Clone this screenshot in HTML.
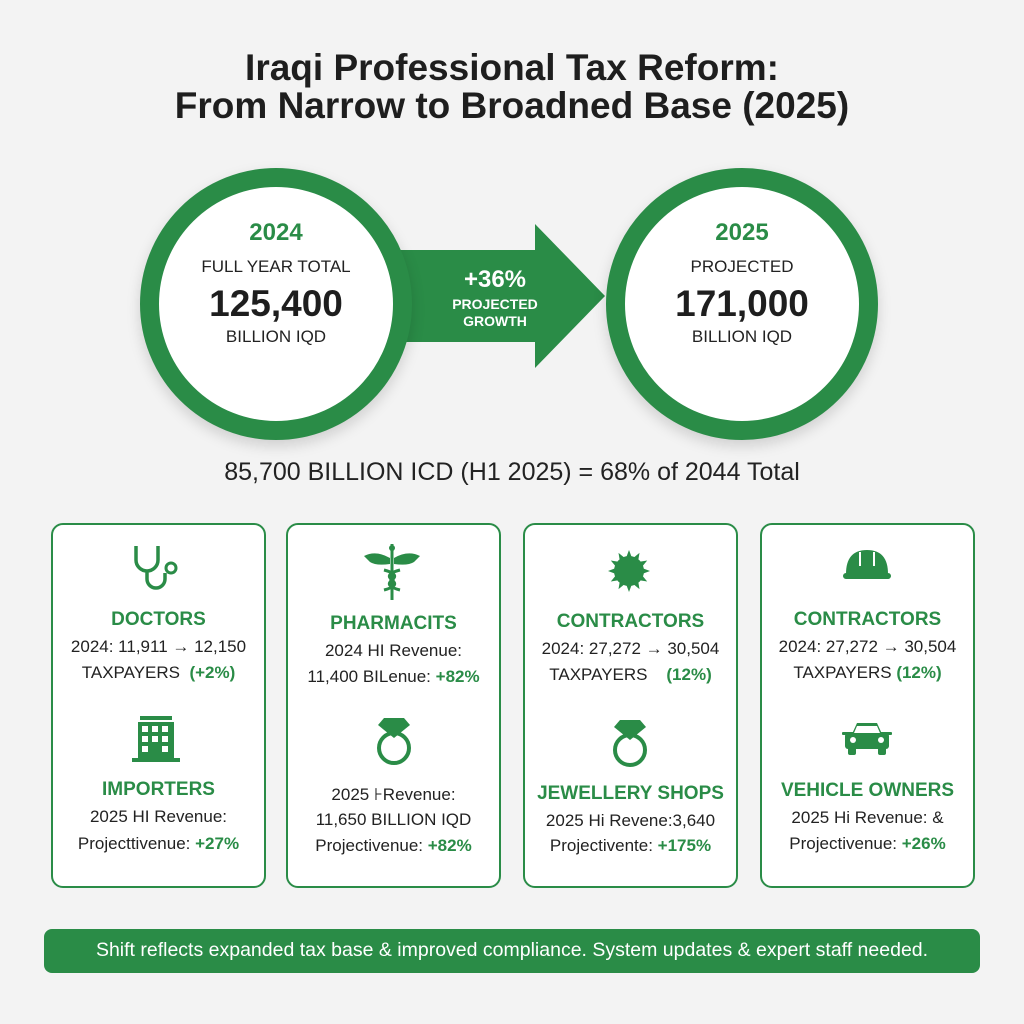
<!DOCTYPE html>
<html><head><meta charset="utf-8"><style>
body{margin:0;width:1024px;height:1024px;background:#f3f3f3;font-family:"Liberation Sans",Arial,sans-serif;position:relative;overflow:hidden;color:#222}
.a{position:absolute;text-align:center;white-space:nowrap}
.title{left:0;width:1024px;font-size:37px;font-weight:bold;color:#1e1e1e;line-height:40px}
.circ{position:absolute;width:234px;height:234px;border:19px solid #2a8c47;border-radius:50%;background:#fff;box-shadow:0 6px 14px rgba(0,0,0,.15)}
.g{color:#2a8c47;font-weight:bold}
.card{position:absolute;top:523px;width:211px;height:361px;border:2px solid #2a8c47;border-radius:12px;background:#fff}
.h{font-size:19px;font-weight:bold;color:#2a8c47;line-height:22px}
.l{font-size:17px;line-height:20px;color:#222}
</style></head><body>
<div class="a title" style="top:48px">Iraqi Professional Tax Reform:</div>
<div class="a title" style="top:86px">From Narrow to Broadned Base (2025)</div>

<svg style="position:absolute;left:380px;top:222px" width="240" height="148">
<polygon points="0,28 155,28 155,2 225,74 155,146 155,120 0,120" fill="#2a8c47"/>
</svg>
<div class="circ" style="left:140px;top:168px"></div>
<div class="circ" style="left:606px;top:168px"></div>
<div class="a g" style="left:140px;width:272px;top:219px;font-size:24px">2024</div>
<div class="a" style="left:140px;width:272px;top:257px;font-size:17px">FULL YEAR TOTAL</div>
<div class="a" style="left:140px;width:272px;top:283px;font-size:37px;font-weight:bold;color:#1e1e1e">125,400</div>
<div class="a" style="left:140px;width:272px;top:327px;font-size:17px">BILLION IQD</div>
<div class="a g" style="left:606px;width:272px;top:219px;font-size:24px">2025</div>
<div class="a" style="left:606px;width:272px;top:257px;font-size:17px">PROJECTED</div>
<div class="a" style="left:606px;width:272px;top:283px;font-size:37px;font-weight:bold;color:#1e1e1e">171,000</div>
<div class="a" style="left:606px;width:272px;top:327px;font-size:17px">BILLION IQD</div>
<div class="a" style="left:420px;width:150px;top:266px;font-size:24px;font-weight:bold;color:#fff">+36%</div>
<div class="a" style="left:420px;width:150px;top:296px;font-size:14px;font-weight:bold;color:#fff;line-height:17px">PROJECTED<br>GROWTH</div>

<div class="a" style="left:0;width:1024px;top:458px;font-size:25px;color:#222">85,700 BILLION ICD (H1 2025) = 68% of 2044 Total</div>

<div class="card" style="left:51px"></div>
<div class="card" style="left:286px"></div>
<div class="card" style="left:523px"></div>
<div class="card" style="left:760px"></div>

<!-- card1 -->
<svg style="position:absolute;left:130px;top:543px" width="52" height="56"><path d="M6,3 v14 a11,11 0 0 0 22,0 v-14 M17,28 v8 a9,9 0 0 0 18,0 v-6" stroke="#2a8c47" stroke-width="3.5" fill="none"/><circle cx="41" cy="25" r="5" stroke="#2a8c47" stroke-width="3" fill="none"/></svg>
<div class="a h" style="left:51px;width:215px;top:609px">DOCTORS</div>
<div class="a l" style="left:51px;width:215px;top:637px">2024: 11,911 → 12,150</div>
<div class="a l" style="left:51px;width:215px;top:663px">TAXPAYERS &nbsp;<span class="g">(+2%)</span></div>
<svg style="position:absolute;left:132px;top:716px" width="48" height="46"><rect x="8" y="0" width="32" height="4" fill="#2a8c47"/><rect x="6" y="6" width="36" height="36" fill="#2a8c47"/><g fill="#fff"><rect x="10" y="10" width="6" height="6"/><rect x="20" y="10" width="6" height="6"/><rect x="30" y="10" width="6" height="6"/><rect x="10" y="20" width="6" height="6"/><rect x="20" y="20" width="6" height="6"/><rect x="30" y="20" width="6" height="6"/><rect x="10" y="30" width="6" height="6"/><rect x="30" y="30" width="6" height="6"/></g><rect x="0" y="42" width="48" height="4" fill="#2a8c47"/></svg>
<div class="a h" style="left:51px;width:215px;top:779px">IMPORTERS</div>
<div class="a l" style="left:51px;width:215px;top:807px">2025 HI Revenue:</div>
<div class="a l" style="left:51px;width:215px;top:834px">Projecttivenue: <span class="g">+27%</span></div>

<!-- card2 -->
<svg style="position:absolute;left:362px;top:544px" width="60" height="56"><path d="M30,0 v56" stroke="#2a8c47" stroke-width="3"/><path d="M2,12 Q14,6 28,14 L28,20 Q14,22 8,18 Z M58,12 Q46,6 32,14 L32,20 Q46,22 52,18 Z" fill="#2a8c47"/><path d="M22,26 Q38,30 30,36 Q22,42 38,46 M38,26 Q22,30 30,36 Q38,42 22,46" stroke="#2a8c47" stroke-width="3" fill="none"/><circle cx="30" cy="4" r="3" fill="#2a8c47"/></svg>
<div class="a h" style="left:286px;width:215px;top:613px">PHARMACITS</div>
<div class="a l" style="left:286px;width:215px;top:641px">2024 HI Revenue:</div>
<div class="a l" style="left:286px;width:215px;top:667px">11,400 BILenue: <span class="g">+82%</span></div>
<svg style="position:absolute;left:372px;top:716px" width="44" height="52"><polygon points="12,2 32,2 38,9 22,22 6,9" fill="#2a8c47"/><circle cx="22" cy="32" r="15" stroke="#2a8c47" stroke-width="4" fill="none"/></svg>
<div class="a l" style="left:286px;width:215px;top:785px">2025 ⊦Revenue:</div>
<div class="a l" style="left:286px;width:215px;top:810px">11,650 BILLION IQD</div>
<div class="a l" style="left:286px;width:215px;top:836px">Projectivenue: <span class="g">+82%</span></div>

<!-- card3 -->
<svg style="position:absolute;left:608px;top:550px" width="42" height="42"><g fill="#2a8c47"><circle cx="21" cy="21" r="15"/><g id="r"><polygon points="21,0 24,8 18,8"/><polygon points="21,42 24,34 18,34"/><polygon points="0,21 8,24 8,18"/><polygon points="42,21 34,24 34,18"/></g><g transform="rotate(30 21 21)"><use href="#r"/></g><g transform="rotate(60 21 21)"><use href="#r"/></g></g></svg>
<div class="a h" style="left:523px;width:215px;top:611px">CONTRACTORS</div>
<div class="a l" style="left:523px;width:215px;top:639px">2024: 27,272 → 30,504</div>
<div class="a l" style="left:523px;width:215px;top:665px">TAXPAYERS &nbsp;&nbsp;&nbsp;<span class="g">(12%)</span></div>
<svg style="position:absolute;left:608px;top:718px" width="44" height="52"><polygon points="12,2 32,2 38,9 22,22 6,9" fill="#2a8c47"/><circle cx="22" cy="32" r="15" stroke="#2a8c47" stroke-width="4" fill="none"/></svg>
<div class="a h" style="left:523px;width:215px;top:783px">JEWELLERY SHOPS</div>
<div class="a l" style="left:523px;width:215px;top:811px">2025 Hi Revene:3,640</div>
<div class="a l" style="left:523px;width:215px;top:836px">Projectivente: <span class="g">+175%</span></div>

<!-- card4 -->
<svg style="position:absolute;left:842px;top:546px" width="50" height="36"><path d="M4,28 Q4,4 25,4 Q46,4 46,28 Z" fill="#2a8c47"/><rect x="1" y="27" width="48" height="6" rx="3" fill="#2a8c47"/><path d="M18,6 v14 M32,6 v14" stroke="#fff" stroke-width="2"/></svg>
<div class="a h" style="left:760px;width:215px;top:609px">CONTRACTORS</div>
<div class="a l" style="left:760px;width:215px;top:637px">2024: 27,272 → 30,504</div>
<div class="a l" style="left:760px;width:215px;top:663px">TAXPAYERS <span class="g">(12%)</span></div>
<svg style="position:absolute;left:842px;top:720px" width="50" height="36"><path d="M10,14 L15,3 H35 L40,14 Z" fill="#2a8c47"/><rect x="3" y="13" width="44" height="16" rx="3" fill="#2a8c47"/><rect x="6" y="27" width="8" height="8" rx="2" fill="#2a8c47"/><rect x="36" y="27" width="8" height="8" rx="2" fill="#2a8c47"/><rect x="0" y="12" width="50" height="3" rx="1" fill="#2a8c47"/><circle cx="11" cy="20" r="3" fill="#fff"/><circle cx="39" cy="20" r="3" fill="#fff"/><path d="M15,6 H35 L38,13 H12 Z" fill="#fff"/></svg>
<div class="a h" style="left:760px;width:215px;top:780px">VEHICLE OWNERS</div>
<div class="a l" style="left:760px;width:215px;top:808px">2025 Hi Revenue: &amp;</div>
<div class="a l" style="left:760px;width:215px;top:834px">Projectivenue: <span class="g">+26%</span></div>

<div style="position:absolute;left:44px;top:929px;width:936px;height:44px;background:#2a8c47;border-radius:8px"></div>
<div class="a" style="left:44px;width:936px;top:939px;font-size:19.5px;color:#fff">Shift reflects expanded tax base &amp; improved compliance. System updates &amp; expert staff needed.</div>
</body></html>
